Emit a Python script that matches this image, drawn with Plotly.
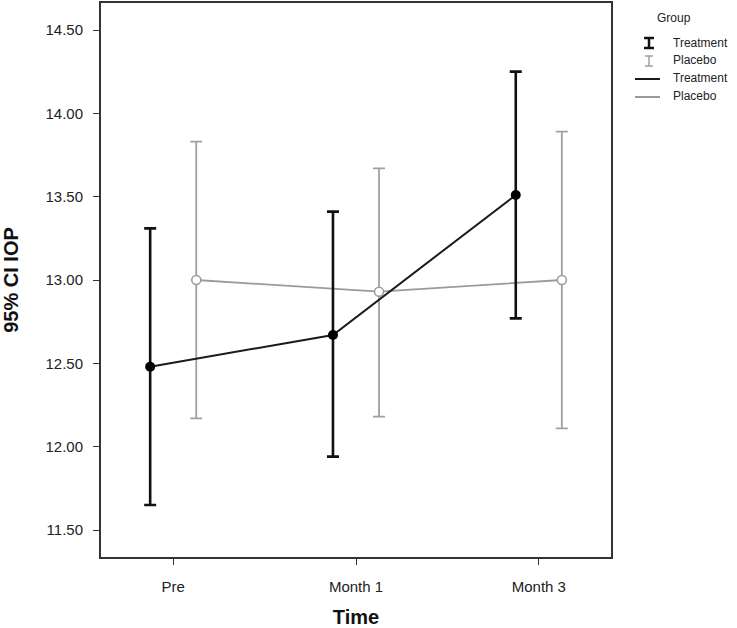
import plotly.graph_objects as go

categories = ["Pre", "Month 1", "Month 3"]
groups = ["Treatment", "Placebo"]

treat_mean = [12.48, 12.67, 13.51]
treat_lower = [11.65, 11.94, 12.77]
treat_upper = [13.31, 13.41, 14.25]

plac_mean = [13.00, 12.93, 13.00]
plac_lower = [12.17, 12.18, 12.11]
plac_upper = [13.83, 13.67, 13.89]

y_ticks = [11.5, 12.0, 12.5, 13.0, 13.5, 14.0, 14.5]

offset = 0.126
xs = list(range(len(categories)))
tx = [x - offset for x in xs]
px = [x + offset for x in xs]

fig = go.Figure()

fig.add_trace(go.Scatter(
    x=px, y=plac_mean, mode="lines+markers",
    line=dict(color="#9a9a9a", width=1.8),
    marker=dict(symbol="circle", size=9, color="white", line=dict(color="#9a9a9a", width=1.5)),
    error_y=dict(type="data", symmetric=False,
                 array=[u - m for u, m in zip(plac_upper, plac_mean)],
                 arrayminus=[m - l for m, l in zip(plac_mean, plac_lower)],
                 color="#a0a0a0", thickness=1.8, width=6),
    showlegend=False, name="Placebo"))

fig.add_trace(go.Scatter(
    x=tx, y=treat_mean, mode="lines+markers",
    line=dict(color="#1a1a1a", width=2),
    marker=dict(symbol="circle", size=10, color="black"),
    error_y=dict(type="data", symmetric=False,
                 array=[u - m for u, m in zip(treat_upper, treat_mean)],
                 arrayminus=[m - l for m, l in zip(treat_mean, treat_lower)],
                 color="#111111", thickness=2.6, width=6),
    showlegend=False, name="Treatment"))

L, R, T, B = 101, 611, 3, 557
W, H = R - L, B - T

def px2paper(xp, yp):
    return (xp - L) / W, 1 - (yp - T) / H

# manual legend
font = dict(family="Liberation Sans, Arial, sans-serif", size=12, color="#222")
ann = [dict(x=655, y=18, text="Group"),
       dict(x=671, y=43, text=groups[0]),
       dict(x=671, y=60, text=groups[1]),
       dict(x=671, y=78, text=groups[0]),
       dict(x=671, y=96, text=groups[1])]
annotations = []
for a in ann:
    p = px2paper(a["x"], a["y"])
    annotations.append(dict(xref="paper", yref="paper", x=p[0], y=p[1],
                            text=a["text"], showarrow=False, xanchor="left", yanchor="middle",
                            font=font))

shapes = []
def seg(x0, y0, x1, y1, color, w):
    a = px2paper(x0, y0); b = px2paper(x1, y1)
    shapes.append(dict(type="line", xref="paper", yref="paper", x0=a[0], y0=a[1], x1=b[0], y1=b[1],
                       line=dict(color=color, width=w)))

# Treatment error-bar symbol
seg(649, 38, 649, 48, "#111", 2.5)
seg(644, 38, 654, 38, "#111", 2.5)
seg(644, 48, 654, 48, "#111", 2.5)
# Placebo error-bar symbol
seg(649, 56, 649, 66, "#a0a0a0", 1.5)
seg(645, 56, 653, 56, "#a0a0a0", 1.5)
seg(645, 66, 653, 66, "#a0a0a0", 1.5)
# lines
seg(635, 79, 660, 79, "#1a1a1a", 2)
seg(635, 97, 660, 97, "#9a9a9a", 2)

fig.update_layout(
    width=737, height=628,
    margin=dict(l=L, r=737 - R, t=T, b=628 - B),
    paper_bgcolor="white", plot_bgcolor="white",
    font=dict(family="Liberation Sans, Arial, sans-serif", size=13, color="#333"),
    annotations=annotations, shapes=shapes,
    xaxis=dict(range=[-0.395, 2.395], tickvals=xs, ticktext=categories, automargin=False,
               showgrid=False, zeroline=False, showline=True, mirror=True,
               linecolor="#333", linewidth=2, ticks="outside", ticklen=6, tickcolor="#333",
               ticklabelstandoff=9,
               tickfont=dict(size=15, color="#222"),
               title=dict(text="<b>Time</b>", font=dict(size=20, color="#111"), standoff=21)),
    yaxis=dict(range=[11.338, 14.662], tickvals=y_ticks, automargin=False,
               ticktext=[f"{v:.2f}" for v in y_ticks],
               showgrid=False, zeroline=False, showline=True, mirror=True,
               linecolor="#333", linewidth=2, ticks="outside", ticklen=6, tickcolor="#333",
               ticklabelstandoff=7,
               tickfont=dict(size=15, color="#222"),
               title=dict(text="<b>95% CI IOP</b>", font=dict(size=20, color="#111"), standoff=22)),
)

fig.write_html("out.html", config={"displayModeBar": False},
               post_script="document.body.style.margin='0';")
